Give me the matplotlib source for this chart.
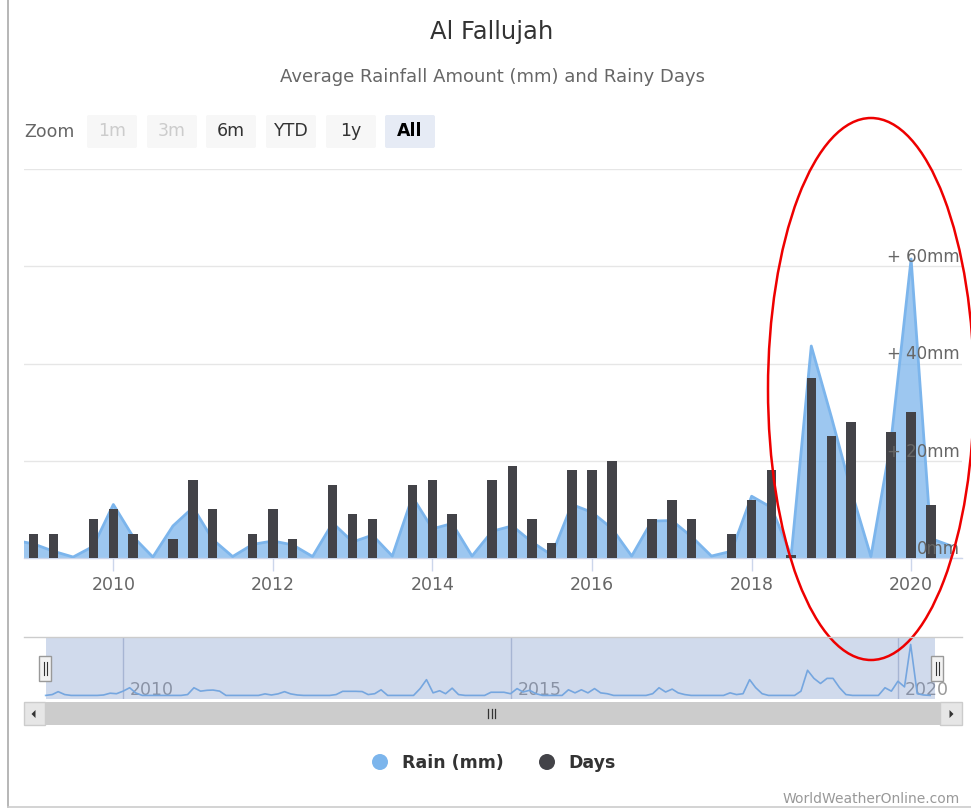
import matplotlib
matplotlib.use("Agg")
import matplotlib.pyplot as plt
import matplotlib.transforms as mtrans
from matplotlib.patches import Ellipse, FancyBboxPatch, Rectangle, Circle, Polygon
import numpy as np
import pandas as pd

W, H = 971, 812

# ---------------- data ----------------
title = "Al Fallujah"
subtitle = "Average Rainfall Amount (mm) and Rainy Days"
series_names = ["Rain (mm)", "Days"]

# quarterly groups, first (partly hidden) group starts Oct 2008, last one Jul 2020
quarter_start = "2008-10-01"
rain_mm = [3.7,
           2.9, 1.4, 0.2, 2.4, 11.0, 4.4, 0.2, 6.6, 10.4, 3.8,
           0.3, 2.8, 3.5, 2.7, 0.3, 7.2, 3.3, 4.7, 0.4, 12.6,
           6.0, 7.1, 0.4, 5.5, 6.6, 3.3, 0.6, 11.0, 9.4, 6.1,
           0.4, 7.6, 7.7, 4.4, 0.4, 1.4, 12.7, 10.4, 0.5, 43.6,
           29.0, 14.0, 0.3, 24.0, 61.5, 4.0,
           2.5]
rain_days = [np.nan,
             5, 5, 0, 8, 10, 5, 0, 4, 16, 10,
             0, 5, 10, 4, 0, 15, 9, 8, 0, 15,
             16, 9, 0, 16, 19, 8, 3, 18, 18, 20,
             0, 8, 12, 8, 0, 5, 12, 18, 0.6, 37,
             25, 28, 0, 26, 30, 11,
             np.nan]
year_ticks = [2010, 2012, 2014, 2016, 2018, 2020]
y_ticks = [0, 20, 40, 60, 80]
y_labels = ["0mm", "+ 20mm", "+ 40mm", "+ 60mm", ""]

nav_start = "2009-01-01"
nav_rain = [0, 1, 4.4, 1, 0, 0, 0, 0, 0, 0.5, 2.6, 2,
            5, 9, 3, 0, 0, 0, 0, 0, 0, 0, 1, 9,
            5, 6, 6.3, 5, 0, 0, 0, 0, 0, 0, 1.8, 0.5,
            1.8, 4.4, 1.8, 0.5, 0, 0, 0, 0, 0, 1, 4.8, 4.8,
            4.8, 4.5, 1, 2, 6.6, 0, 0, 0, 0, 0, 8, 18.5,
            3, 5.5, 2, 8.5, 1, 0, 0, 0, 0, 3.7, 3.7, 3.7,
            2, 8, 4, 6, 2, 0, 0, 0, 0, 6.6, 3, 6.6,
            3, 8, 3, 2, 0, 0, 0, 0, 0, 0, 2, 9,
            4, 7.4, 3, 1, 0, 0, 0, 0, 0, 0, 3, 1,
            2, 18.5, 9.2, 2, 0, 0, 0, 0, 0, 5, 29.5, 20,
            14, 20, 20, 9, 1, 0, 0, 0, 0, 0, 9, 5,
            16.6, 10, 59.8, 2, 0.5, 0]
nav_years = [2010, 2015, 2020]
zoom_buttons = ["1m", "3m", "6m", "YTD", "1y", "All"]

# ---------------- styling ----------------
RAIN_C = "#7cb5ec"
DAYS_C = "#434348"
GRID_C = "#e6e6e6"
AXIS_C = "#ccd6eb"
LABEL_C = "#666666"

q_dates = pd.date_range(quarter_start, periods=len(rain_mm), freq="QS")
n_dates = pd.date_range(nav_start, periods=len(nav_rain), freq="MS")

fig = plt.figure(figsize=(W / 100, H / 100), dpi=100)
fig.patch.set_facecolor("white")


def frac(x0, y0, x1, y1):
    return [x0 / W, 1 - y1 / H, (x1 - x0) / W, (y1 - y0) / H]


# ---------------- main chart ----------------
ax = fig.add_axes(frac(24, 170, 962, 559))
t0 = pd.Timestamp("2009-01-01")
ax.set_xlim(t0 - pd.Timedelta(days=44), t0 + pd.Timedelta(days=4250))
ax.set_ylim(0, 80)
ax.set_axisbelow(True)
ax.set_yticks(y_ticks)
ax.yaxis.set_tick_params(length=0, labelleft=False)
ax.grid(axis="y", color=GRID_C, lw=1)
for s in ["top", "left", "right"]:
    ax.spines[s].set_visible(False)
ax.spines["bottom"].set_color(AXIS_C)
ax.spines["bottom"].set_linewidth(1)

ax.fill_between(q_dates, rain_mm, 0, color=RAIN_C, alpha=0.75, lw=0, zorder=2)
ax.plot(q_dates, rain_mm, color=RAIN_C, lw=2, zorder=3, solid_joinstyle="round")
ax.bar(q_dates, rain_days, width=43, color=DAYS_C, zorder=4)

ax.set_xticks([pd.Timestamp(f"{y}-01-01") for y in year_ticks])
ax.set_xticklabels([str(y) for y in year_ticks], color=LABEL_C, fontsize=12.5)
ax.tick_params(axis="x", length=9, width=1, color=AXIS_C, pad=3)

ytr = mtrans.offset_copy(mtrans.blended_transform_factory(ax.transAxes, ax.transData),
                         fig=fig, x=0, y=10, units="dots")
for v, lab in zip(y_ticks, y_labels):
    ax.text((960 - 24) / 938, v, lab, transform=ytr, ha="right", va="center",
            color=LABEL_C, fontsize=12, zorder=6)

# ---------------- navigator ----------------
nav = fig.add_axes(frac(24, 638, 962, 700))
base2010 = pd.Timestamp("2010-01-01")
nav.set_xlim(base2010 - pd.Timedelta(days=467), base2010 + pd.Timedelta(days=3954))
nav.set_ylim(-4.2, 68.5)
nav.axis("off")
for y in nav_years:
    nav.axvline(pd.Timestamp(f"{y}-01-01"), color="#c4cbdb", lw=1, zorder=1)
    nav.annotate(str(y), xy=(pd.Timestamp(f"{y}-01-01"), 0), xycoords=("data", "axes fraction"),
                 xytext=(7, 10), textcoords="offset pixels", ha="left", va="center",
                 color="#999999", fontsize=12.5, zorder=2)
nav.plot(n_dates, nav_rain, color=RAIN_C, lw=1.2, zorder=3, solid_joinstyle="round")
nav.axvspan(n_dates[0], n_dates[-1] + pd.Timedelta(days=22), color="#6685c2", alpha=0.3, lw=0, zorder=4)

# ---------------- overlay (pixel coordinates) ----------------
ov = fig.add_axes([0, 0, 1, 1])
ov.set_xlim(0, W)
ov.set_ylim(H, 0)
ov.axis("off")

# frame lines of the screenshot
ov.plot([8, 8], [0, 808], color="#aaaaaa", lw=1.2)
ov.plot([8, W], [808, 808], color="#cccccc", lw=1.2)

ov.text(492, 32, title, ha="center", va="center", fontsize=17.5, color="#333333")
ov.text(492, 77, subtitle, ha="center", va="center", fontsize=13, color=LABEL_C)

# zoom buttons
ov.text(24, 132, "Zoom", ha="left", va="center", fontsize=12.5, color=LABEL_C)
bx = [86, 146, 205, 265, 325, 384]
for i, (x0, lab) in enumerate(zip(bx, zoom_buttons)):
    disabled = i < 2
    selected = lab == "All"
    fc = "#e6ebf5" if selected else "#f7f7f7"
    tc = "#cccccc" if disabled else ("#000000" if selected else "#333333")
    ov.add_patch(FancyBboxPatch((x0 + 1, 116), 50, 33, boxstyle="round,pad=0,rounding_size=2",
                                fc=fc, ec="none"))
    ov.text(x0 + 26, 131, lab, ha="center", va="center", fontsize=12.5, color=tc,
            fontweight="bold" if selected else "normal")

# navigator top outline
ov.plot([24, 962], [638, 638], color="#cccccc", lw=1)

# navigator handles
for hx in [45, 937]:
    ov.add_patch(Rectangle((hx - 6, 657), 12, 25, fc="#f2f2f2", ec="#999999", lw=1))
    ov.plot([hx - 1.5, hx - 1.5], [663, 676], color="#333333", lw=0.8)
    ov.plot([hx + 1.5, hx + 1.5], [663, 676], color="#333333", lw=0.8)

# scrollbar
ov.add_patch(Rectangle((24, 703), 938, 23, fc="#f2f2f2", ec="none"))
ov.add_patch(Rectangle((45, 703), 895, 23, fc="#cccccc", ec="none"))
ov.add_patch(Rectangle((24, 703), 21, 23, fc="#e6e6e6", ec="#cccccc", lw=1))
ov.add_patch(Rectangle((940, 703), 22, 23, fc="#e6e6e6", ec="#cccccc", lw=1))
ov.add_patch(Polygon([[35.5, 711], [35.5, 719], [31.5, 715]], closed=True, fc="#333333", ec="none"))
ov.add_patch(Polygon([[949.5, 711], [949.5, 719], [953.5, 715]], closed=True, fc="#333333", ec="none"))
for gx in [488, 491.5, 495]:
    ov.plot([gx, gx], [710, 719], color="#333333", lw=0.9)

# legend
ov.add_patch(Circle((380, 763), 8, fc=RAIN_C, ec="none"))
ov.text(402, 763, series_names[0], ha="left", va="center", fontsize=12.5,
        fontweight="bold", color="#333333")
ov.add_patch(Circle((547, 763), 8, fc=DAYS_C, ec="none"))
ov.text(568, 763, series_names[1], ha="left", va="center", fontsize=12.5,
        fontweight="bold", color="#333333")

# credits
ov.text(960, 799, "WorldWeatherOnline.com", ha="right", va="center", fontsize=10, color="#999999")

# red annotation ellipse
ov.add_patch(Ellipse((871, 390), 206, 542, angle=0, fill=False, ec="#ee0000", lw=1.8))

fig.savefig("out.png", dpi=100)
